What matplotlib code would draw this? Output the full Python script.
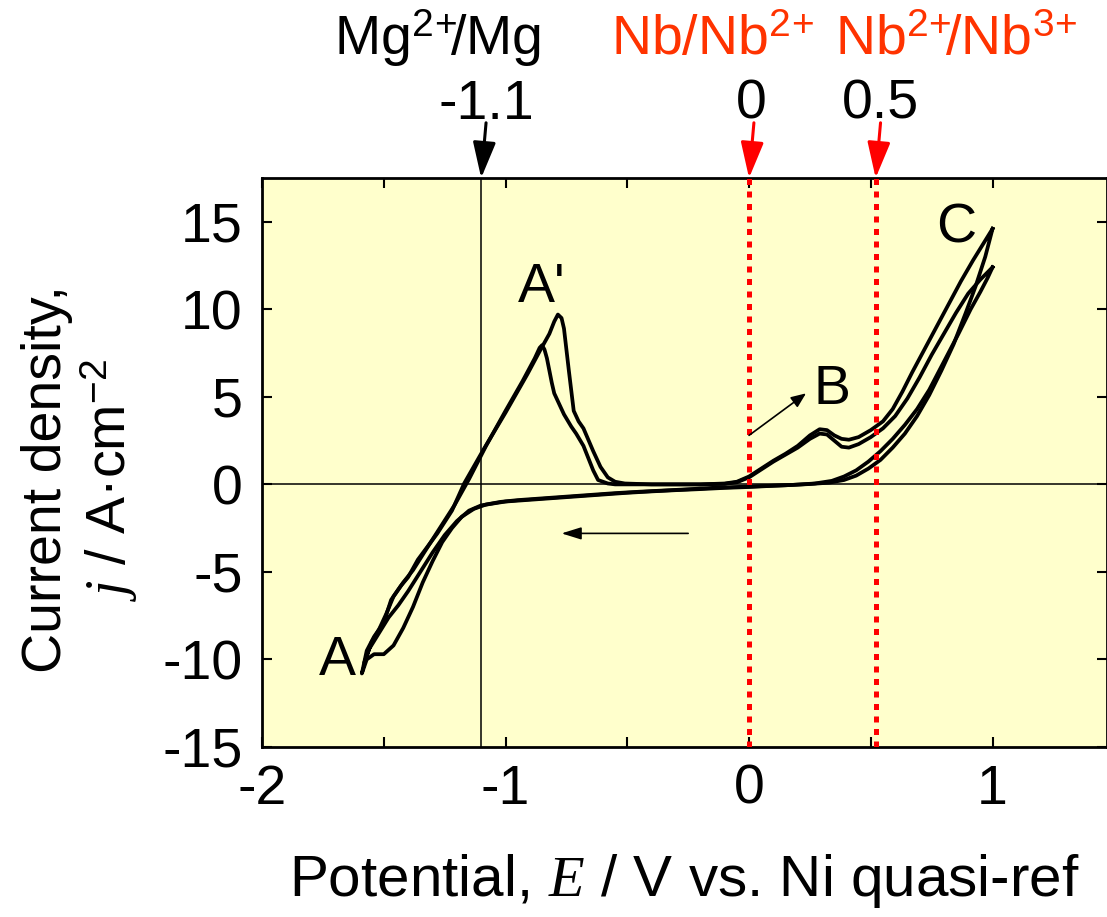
import numpy as np
import matplotlib
matplotlib.use("Agg")
import matplotlib.pyplot as plt
from matplotlib.ticker import MultipleLocator

plt.rcParams['font.family'] = ['Liberation Sans', 'DejaVu Sans']
plt.rcParams['mathtext.fontset'] = 'custom'
plt.rcParams['mathtext.rm'] = 'Liberation Sans'
plt.rcParams['mathtext.it'] = 'Liberation Serif:italic'
plt.rcParams['axes.unicode_minus'] = False

FS = 40

# cycle 1 : cathodic sweep from 1.0 V, then anodic back to 1.0 V
c1_E = [1.0, 0.97, 0.93, 0.89, 0.84, 0.79, 0.74, 0.69, 0.64, 0.59, 0.54, 0.49, 0.44, 0.39,
        0.33, 0.25, 0.15, 0.05, -0.05, -0.15, -0.25, -0.35, -0.45, -0.55, -0.65, -0.75,
        -0.85, -0.95, -1.02, -1.08, -1.13, -1.18, -1.22, -1.26, -1.30, -1.34, -1.38, -1.42,
        -1.46, -1.50, -1.54, -1.57, -1.59,
        -1.57, -1.54, -1.50, -1.47, -1.43, -1.40, -1.36, -1.28, -1.22, -1.17, -1.09, -1.00,
        -0.91, -0.86, -0.82, -0.80, -0.785, -0.77, -0.76, -0.74, -0.72, -0.70, -0.68, -0.64,
        -0.61, -0.58, -0.55, -0.51, -0.40, -0.30, -0.20, -0.10, -0.05, 0.0, 0.05, 0.10, 0.15,
        0.20, 0.25, 0.29, 0.32, 0.35, 0.38, 0.41, 0.45, 0.50, 0.55, 0.59, 0.63, 0.67, 0.72,
        0.77, 0.82, 0.87, 0.92, 0.96, 1.0]
c1_j = [14.6, 13.0, 11.3, 9.8, 8.0, 6.5, 5.1, 3.9, 2.9, 2.1, 1.4, 0.9, 0.5, 0.25,
        0.1, 0.02, -0.05, -0.1, -0.15, -0.2, -0.28, -0.35, -0.42, -0.5, -0.6, -0.7,
        -0.8, -0.9, -1.0, -1.15, -1.4, -1.85, -2.5, -3.3, -4.4, -5.6, -7.0, -8.2,
        -9.2, -9.7, -9.7, -10.0, -10.8,
        -9.5, -8.7, -7.9, -6.6, -5.8, -5.3, -4.3, -2.8, -1.5, 0.05, 2.0, 4.1,
        6.3, 7.6, 8.6, 9.3, 9.7, 9.5, 8.9, 6.5, 4.2, 3.6, 3.2, 1.9,
        1.0, 0.4, 0.15, 0.05, 0.0, 0.0, 0.0, 0.05, 0.15, 0.45, 0.9, 1.35, 1.75,
        2.2, 2.8, 3.15, 3.1, 2.8, 2.6, 2.55, 2.7, 3.1, 3.6, 4.3, 5.3, 6.4, 7.7,
        9.0, 10.3, 11.6, 12.8, 13.7, 14.6]

# cycle 2
c2_E = [1.0, 0.98, 0.95, 0.91, 0.86, 0.80, 0.74, 0.69, 0.64, 0.59, 0.54, 0.49, 0.44, 0.39,
        0.34, 0.27, 0.18, 0.10, 0.0, -0.1, -0.2, -0.3, -0.4, -0.5, -0.6, -0.7, -0.8, -0.9,
        -1.0, -1.1, -1.15, -1.20, -1.25, -1.30, -1.35, -1.40, -1.44, -1.48, -1.52, -1.56, -1.58,
        -1.55, -1.52, -1.49, -1.46, -1.42, -1.38, -1.33, -1.27, -1.21, -1.15, -1.08, -1.00,
        -0.93, -0.88, -0.86, -0.85, -0.84, -0.83, -0.81, -0.80, -0.78, -0.76, -0.73, -0.71,
        -0.68, -0.66, -0.64, -0.62, -0.58, -0.55, -0.40, -0.20, -0.10, -0.05, 0.0, 0.05, 0.10,
        0.15, 0.20, 0.25, 0.29, 0.32, 0.35, 0.38, 0.41, 0.45, 0.50, 0.55, 0.60, 0.65, 0.70,
        0.75, 0.80, 0.85, 0.90, 0.95, 1.0]
c2_j = [12.4, 11.8, 11.0, 10.0, 8.6, 7.0, 5.4, 4.3, 3.4, 2.6, 1.9, 1.3, 0.8, 0.45,
        0.2, 0.05, -0.03, -0.08, -0.15, -0.2, -0.27, -0.33, -0.4, -0.48, -0.58, -0.68, -0.78, -0.88,
        -0.98, -1.2, -1.5, -2.1, -2.9, -3.9, -5.0, -6.1, -6.9, -7.6, -8.5, -9.4, -10.2,
        -9.0, -8.3, -7.4, -6.4, -5.6, -4.9, -3.8, -2.5, -1.2, 0.3, 2.2, 4.2,
        5.9, 7.2, 7.8, 7.95, 7.7, 7.2, 5.8, 5.2, 4.6, 4.0, 3.3, 2.9,
        2.2, 1.5, 0.8, 0.25, 0.05, 0.0, 0.0, 0.0, 0.03, 0.12, 0.4, 0.85, 1.3,
        1.7, 2.1, 2.6, 2.9, 2.85, 2.5, 2.15, 2.1, 2.3, 2.7, 3.2, 3.9, 4.9, 6.1,
        7.4, 8.6, 9.8, 10.9, 11.7, 12.4]

ref_E = [-1.1, 0.0, 0.52]
ref_txt = ['-1.1', '0', '0.5']
couple_txt = [r'Mg$^{2\!+}\!\!$/Mg', r'Nb/Nb$^{2\!+}$', r'Nb$^{2\!+}\!\!$/Nb$^{3\!+}$']

fig = plt.figure(figsize=(11.07, 9.17), dpi=100)
ax = fig.add_axes([0.2367, 0.1854, 0.7633, 0.6205])
ax.set_facecolor('#FFFFCC')

ax.plot(c1_E, c1_j, color='k', lw=2.7, solid_joinstyle='round')
ax.plot(c2_E, c2_j, color='k', lw=2.7, solid_joinstyle='round')

ax.axhline(0, color='k', lw=1.1, zorder=1)
ax.axvline(ref_E[0], color='k', lw=1.1, zorder=1)
for e in ref_E[1:]:
    ax.axvline(e, color='#FF0000', lw=3.6, linestyle=(0, (1.2, 1.3)), dash_capstyle='butt', zorder=3)

ax.set_xlim(-2, 1.47)
ax.set_ylim(-15, 17.5)
ax.xaxis.set_major_locator(MultipleLocator(1))
ax.xaxis.set_minor_locator(MultipleLocator(0.5))
ax.yaxis.set_major_locator(MultipleLocator(5))
ax.tick_params(which='both', direction='in', length=7, width=1.5, top=True, right=True)
ax.tick_params(axis='both', labelsize=FS)
ax.tick_params(axis='x', pad=12)
ax.tick_params(axis='y', pad=14)
for s in ax.spines.values():
    s.set_linewidth(2)

ax.set_xlabel('Potential, $E$ / V vs. Ni quasi-ref', fontsize=42)
ax.xaxis.set_label_coords(0.5, -0.185)
ax.set_ylabel('Current density,\n$j$ / A·cm$^{-2}$', fontsize=FS, linespacing=1.1)
ax.yaxis.set_label_coords(-0.145, 0.47)

# peak labels
ax.text(-0.85, 11.2, "A'", fontsize=FS, ha='center', va='center')
ax.text(0.34, 5.4, 'B', fontsize=FS, ha='center', va='center')
ax.text(0.85, 14.6, 'C', fontsize=FS, ha='center', va='center')
ax.text(-1.69, -10.1, 'A', fontsize=FS, ha='center', va='center')

ax.annotate('', xy=(0.234, 5.2), xytext=(0.0, 2.8),
            arrowprops=dict(arrowstyle='-|>,head_length=0.6,head_width=0.25', color='k', lw=1.2,
                            mutation_scale=15, shrinkA=0, shrinkB=0))
ax.annotate('', xy=(-0.77, -2.8), xytext=(-0.25, -2.8),
            arrowprops=dict(arrowstyle='-|>,head_length=0.8,head_width=0.25', color='k', lw=1.2,
                            mutation_scale=15, shrinkA=0, shrinkB=0))

# reference potentials above the plot
trans = ax.get_xaxis_transform()
arrow_col = ['k', '#FF0000', '#FF0000']
text_col = ['k', '#FF3300', '#FF3300']
lab_x = [-1.08, 0.01, 0.54]
cpl_x = [-1.28, -0.15, 0.85]
for i in range(3):
    ax.annotate('', xy=(ref_E[i], 1.0), xycoords=trans, xytext=(ref_E[i] + 0.02, 1.097), textcoords=trans,
                arrowprops=dict(arrowstyle='-|>,head_length=1.1,head_width=0.35', color=arrow_col[i],
                                lw=2.2, mutation_scale=20, shrinkA=0, shrinkB=0), annotation_clip=False)
    ax.text(lab_x[i], 1.104, ref_txt[i], transform=trans, fontsize=FS, ha='center', va='baseline', color='k')
    ax.text(cpl_x[i], 1.216, couple_txt[i], transform=trans, fontsize=FS, ha='center', va='baseline',
            color=text_col[i])

fig.savefig('out.png', dpi=100)
